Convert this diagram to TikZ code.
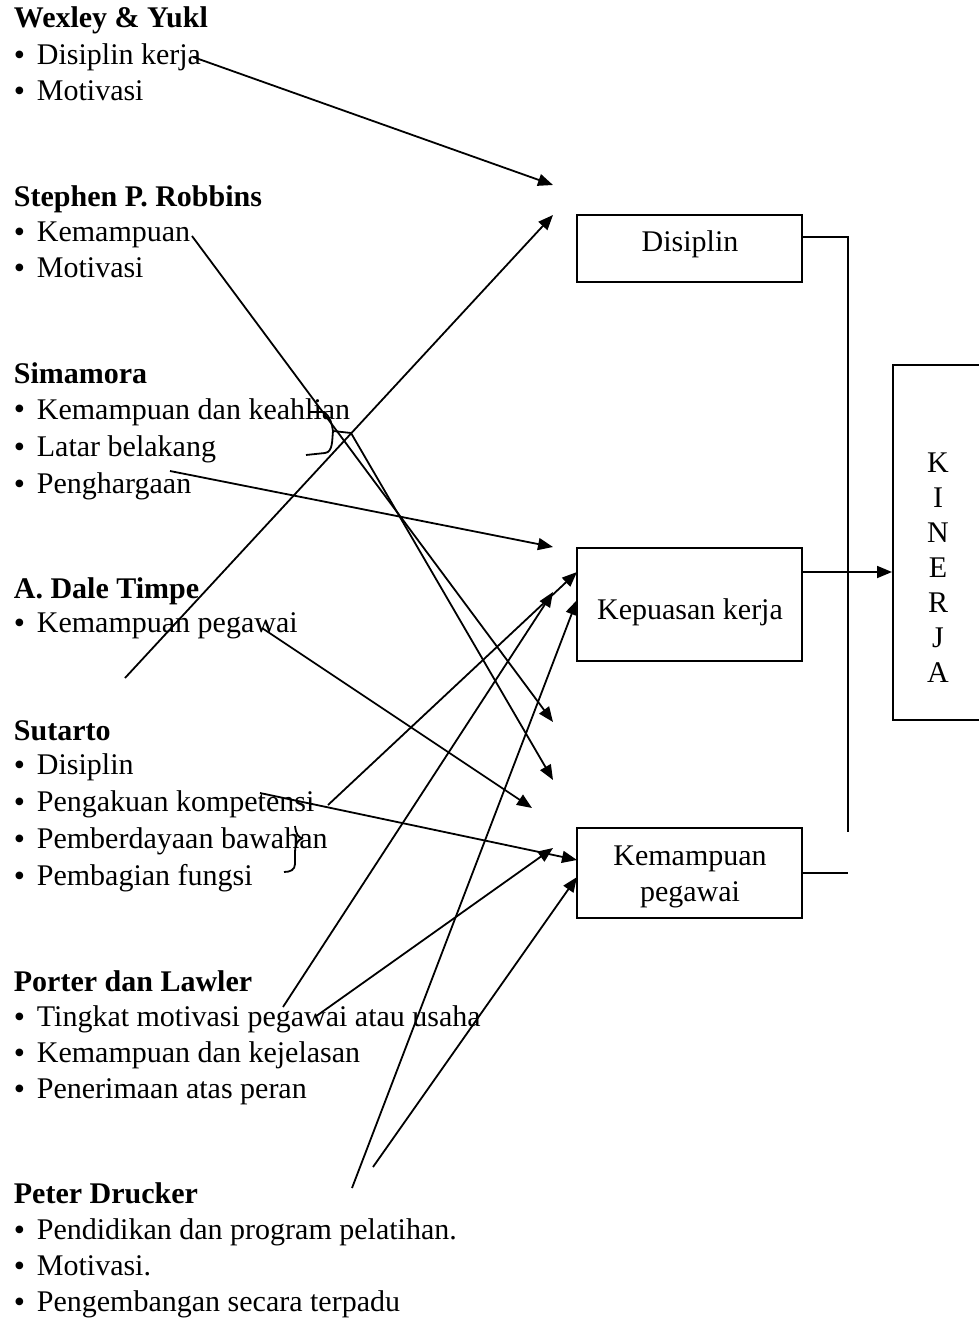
\documentclass[tikz,border=0pt]{standalone}
\usepackage{fontspec}
\setmainfont{Liberation Serif}
\usetikzlibrary{arrows.meta}
\newcommand\bitem[3]{\node[bul] (#1b) at (13,{#2+1}) {•};\node[item] (#1) at (36,#2) {#3};}
\begin{document}
\begin{tikzpicture}[x=0.5pt,y=-0.5pt, line width=0.9pt,
  every node/.style={font=\fontsize{15}{18}\selectfont, inner sep=0pt},
  head/.style={anchor=base west, font=\fontsize{15}{18}\selectfont\bfseries},
  item/.style={anchor=base west},
  bul/.style={anchor=base west, font=\fontsize{16}{18}\selectfont, text height=7pt, text depth=0pt},
  box/.style={draw, line width=1pt, minimum width=112.5pt},
  lbl/.style={anchor=base},
  arr/.style={-{Triangle[length=7.5pt,width=6pt]}}]
\useasboundingbox (0,0) rectangle (978,1320);

% left column texts
\node[head] (wy) at (13,28) {Wexley \& Yukl};
\bitem{wy1}{65}{Disiplin kerja}
\bitem{wy2}{101}{Motivasi}

\node[head] (sr) at (13,207) {Stephen P. Robbins};
\bitem{sr1}{242}{Kemampuan}
\bitem{sr2}{278}{Motivasi}

\node[head] (sm) at (13,384) {Simamora};
\bitem{sm1}{419}{Kemampuan dan keahlian}
\bitem{sm2}{456}{Latar belakang}
\bitem{sm3}{493}{Penghargaan}

\node[head] (dt) at (13,598) {A. Dale Timpe};
\bitem{dt1}{632}{Kemampuan pegawai}

\node[head] (st) at (13,740) {Sutarto};
\bitem{st1}{774}{Disiplin}
\bitem{st2}{811}{Pengakuan kompetensi}
\bitem{st3}{848}{Pemberdayaan bawahan}
\bitem{st4}{885}{Pembagian fungsi}

\node[head] (pl) at (13,991) {Porter dan Lawler};
\bitem{pl1}{1026}{Tingkat motivasi pegawai atau usaha}
\bitem{pl2}{1062}{Kemampuan dan kejelasan}
\bitem{pl3}{1098}{Penerimaan atas peran}

\node[head] (pd) at (13,1203) {Peter Drucker};
\bitem{pd1}{1239}{Pendidikan dan program pelatihan.}
\bitem{pd2}{1275}{Motivasi.}
\bitem{pd3}{1311}{Pengembangan secara terpadu}

% boxes
\node[box, minimum height=33.5pt] (dis) at (689.5,248.5) {};
\node[box, minimum height=56.5pt] (kep) at (689.5,604.5) {};
\node[box, minimum height=45pt] (kem) at (689.5,873) {};
\node[draw, line width=1pt, minimum width=50pt, minimum height=177.5pt] (kin) at (943,542.5) {};

\node[lbl] (disT) at (690,252) {Disiplin};
\node[lbl] (kepT) at (690,619) {Kepuasan kerja};
\node[lbl] (kemT1) at (690,865) {Kemampuan};
\node[lbl] (kemT2) at (690,901) {pegawai};
\foreach \l/\y [count=\i] in {K/472,I/507,N/542,E/577,R/612,J/647,A/682}
  \node[lbl] (kl\i) at (938,\y) {\l};

% right-hand connectors
\coordinate (y237) at (0,237);
\coordinate (y572) at (0,572);
\coordinate (vEnd) at (848,832);
\draw (dis.east |- y237) -| (vEnd);
\draw[arr] (kep.east |- y572) -- (kin.west |- y572);
\draw (kem.east) -- (kem.east -| vEnd);

% braces
\draw (310,412) -- (324,412) .. controls (330,416) and (332,424) .. (333,431) -- (351,433);
\draw (333,431) .. controls (332,440) and (333,452) .. (325,453) -- (306,455);
\draw (295,826) .. controls (296,834) and (298,838) .. (303,838);
\draw (303,838) .. controls (297,840) and (295,845) .. (295,852) -- (295,864) .. controls (295,870) and (290,872) .. (284,872);

% arrow connectors
\foreach \i/\sx/\sy/\tx/\ty in {
  1/193/57/553/185,
  2/125/678/553/215,
  3/192/236/553/722,
  4/351/433/553/780,
  5/170/471/553/547,
  6/262/628/532/808,
  7/260/793/577/860,
  8/328/805/577/572,
  9/283/1007/553/592,
  10/315/1017/553/848,
  11/352/1188/577/600,
  12/373/1167/577/877} {
  \coordinate (s\i) at (\sx,\sy);
  \coordinate (t\i) at (\tx,\ty);
  \draw[arr] (s\i) -- (t\i);
}
\end{tikzpicture}
\end{document}
